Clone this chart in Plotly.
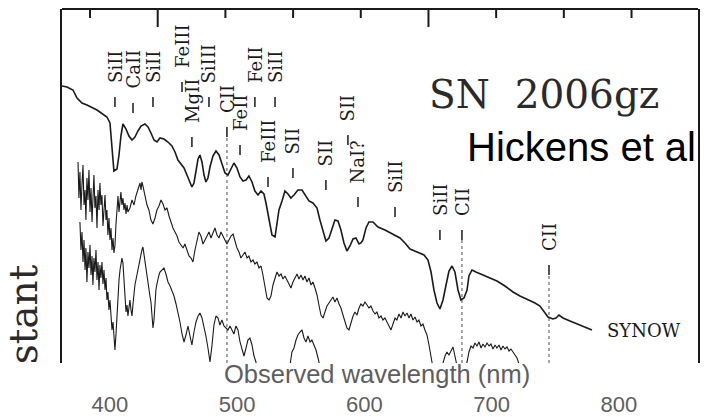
import plotly.graph_objects as go

# ---- spectra: (observed wavelength [nm], scaled flux + constant) ----
synow = [
    (362.3, 2.77), (366.2, 2.76), (370.9, 2.73), (374.1, 2.65), (378.0, 2.60), (381.9, 2.58),
    (389.8, 2.53), (394.5, 2.49), (397.6, 2.46), (400.0, 2.40), (400.8, 2.28), (401.6, 2.13),
    (402.4, 1.97), (403.1, 1.92), (405.5, 1.94), (407.1, 2.08), (408.6, 2.27), (410.2, 2.39),
    (412.6, 2.34), (414.9, 2.27), (417.3, 2.23), (419.6, 2.26), (422.0, 2.32), (424.4, 2.37),
    (427.5, 2.39), (429.9, 2.36), (432.2, 2.30), (434.6, 2.23), (436.9, 2.21), (439.3, 2.25),
    (442.4, 2.24), (445.6, 2.21), (448.7, 2.17), (451.1, 2.11), (453.4, 2.03), (455.8, 1.99),
    (458.2, 1.95), (460.5, 1.88), (462.9, 1.80), (464.4, 1.76), (466.0, 1.80), (467.6, 1.91),
    (469.2, 2.04), (470.7, 2.08), (472.3, 2.01), (473.9, 1.88), (475.4, 1.81), (477.0, 1.85),
    (478.6, 1.96), (480.9, 2.07), (483.3, 2.12), (485.7, 2.08), (488.0, 1.98), (490.4, 1.90),
    (492.7, 1.88), (495.1, 1.95), (497.4, 2.00), (499.8, 1.95), (502.2, 1.86), (504.5, 1.82),
    (506.9, 1.83), (509.2, 1.87), (511.6, 1.81), (513.9, 1.72), (516.3, 1.68), (518.7, 1.72),
    (521.0, 1.69), (522.6, 1.60), (524.2, 1.50), (525.7, 1.37), (527.3, 1.28), (529.7, 1.26),
    (531.2, 1.38), (532.8, 1.53), (535.2, 1.62), (537.5, 1.72), (539.9, 1.69), (542.2, 1.65),
    (544.6, 1.68), (547.7, 1.73), (550.9, 1.73), (553.2, 1.68), (556.4, 1.62), (559.5, 1.60),
    (562.7, 1.55), (565.0, 1.43), (567.4, 1.31), (569.7, 1.22), (572.1, 1.25), (574.5, 1.35),
    (576.8, 1.43), (579.2, 1.42), (581.5, 1.33), (583.9, 1.20), (586.2, 1.12), (588.6, 1.17),
    (591.0, 1.24), (593.3, 1.25), (595.7, 1.19), (597.2, 1.20), (598.8, 1.23), (601.2, 1.35),
    (603.5, 1.41), (606.7, 1.41), (610.6, 1.36), (616.1, 1.33), (622.4, 1.29), (627.9, 1.25),
    (631.8, 1.20), (635.8, 1.14), (641.3, 1.11), (646.8, 1.08), (649.9, 1.03), (652.3, 0.91),
    (654.6, 0.73), (657.0, 0.60), (659.3, 0.54), (661.7, 0.63), (664.1, 0.78), (666.4, 0.92),
    (668.8, 0.97), (671.1, 0.91), (673.5, 0.73), (675.8, 0.63), (678.2, 0.65), (680.6, 0.73),
    (682.1, 0.87), (684.5, 0.93), (687.6, 0.91), (693.1, 0.88), (698.6, 0.85), (704.1, 0.82),
    (710.4, 0.77), (716.7, 0.71), (722.2, 0.67), (727.7, 0.64), (734.0, 0.60), (737.9, 0.57),
    (741.0, 0.51), (744.2, 0.46), (748.1, 0.44), (750.5, 0.45), (752.8, 0.48), (756.0, 0.45),
    (761.5, 0.42), (769.4, 0.38), (778.8, 0.33),
]

spec_mid = [
    (374.9, 2.01), (375.6, 1.65), (376.4, 1.91), (377.2, 1.53), (378.0, 1.78), (378.8, 1.98),
    (379.6, 1.58), (380.4, 1.73), (381.1, 1.43), (381.9, 1.85), (382.7, 1.63), (383.5, 1.93),
    (384.3, 1.51), (385.1, 1.75), (385.9, 1.41), (386.6, 1.71), (387.4, 1.88), (388.2, 1.55),
    (389.0, 1.67), (389.8, 1.35), (390.6, 1.73), (391.4, 1.53), (392.1, 1.80), (392.9, 1.58),
    (393.7, 1.68), (394.5, 1.37), (395.3, 1.58), (396.1, 1.68), (396.9, 1.43), (397.6, 1.53),
    (398.4, 1.28), (399.2, 1.45), (400.0, 1.23), (400.8, 1.35), (401.6, 1.13), (402.4, 1.25),
    (403.1, 1.10), (403.9, 1.17), (404.7, 1.38), (405.5, 1.58), (406.3, 1.67), (407.1, 1.51),
    (407.9, 1.63), (408.6, 1.71), (409.4, 1.58), (410.2, 1.65), (411.0, 1.53), (411.8, 1.60),
    (412.6, 1.49), (413.4, 1.58), (414.1, 1.51), (415.7, 1.55), (417.3, 1.63), (418.9, 1.58),
    (420.4, 1.67), (422.0, 1.75), (423.6, 1.80), (424.4, 1.73), (425.1, 1.81), (425.9, 1.77),
    (427.5, 1.68), (429.1, 1.58), (430.6, 1.53), (432.2, 1.43), (433.8, 1.39), (435.4, 1.45),
    (436.9, 1.53), (438.5, 1.57), (440.1, 1.63), (441.7, 1.59), (443.2, 1.53), (444.8, 1.55),
    (446.4, 1.47), (447.9, 1.41), (449.5, 1.35), (451.1, 1.31), (452.7, 1.27), (454.2, 1.21),
    (455.8, 1.18), (457.4, 1.15), (458.9, 1.19), (460.5, 1.13), (462.1, 1.07), (463.7, 1.05),
    (465.2, 1.01), (466.8, 1.13), (468.4, 1.23), (469.9, 1.31), (471.5, 1.27), (473.1, 1.19),
    (474.7, 1.23), (476.2, 1.27), (477.8, 1.31), (479.4, 1.25), (480.9, 1.31), (482.5, 1.35),
    (484.1, 1.28), (485.7, 1.25), (487.2, 1.31), (488.8, 1.27), (490.4, 1.23), (491.9, 1.19),
    (493.5, 1.23), (495.1, 1.27), (496.7, 1.29), (498.2, 1.21), (499.8, 1.15), (501.4, 1.11),
    (502.9, 1.05), (504.5, 1.08), (506.1, 1.11), (507.7, 1.05), (509.2, 1.07), (510.8, 1.01),
    (512.4, 1.03), (513.9, 0.99), (515.5, 1.01), (517.1, 0.95), (518.7, 0.97), (520.2, 0.88),
    (521.8, 0.76), (523.4, 0.65), (525.0, 0.63), (526.5, 0.67), (528.1, 0.78), (529.7, 0.85),
    (531.2, 0.91), (532.8, 0.87), (534.4, 0.89), (536.0, 0.84), (537.5, 0.87), (539.1, 0.83),
    (540.7, 0.79), (542.2, 0.75), (543.8, 0.81), (545.4, 0.85), (547.0, 0.89), (548.5, 0.84),
    (550.1, 0.88), (551.7, 0.83), (553.2, 0.87), (554.8, 0.81), (556.4, 0.85), (558.0, 0.78),
    (559.5, 0.81), (561.1, 0.75), (562.7, 0.68), (564.2, 0.58), (565.8, 0.48), (567.4, 0.45),
    (569.0, 0.51), (570.5, 0.57), (572.1, 0.60), (573.7, 0.63), (575.2, 0.66), (576.8, 0.61),
    (578.4, 0.65), (580.0, 0.59), (581.5, 0.55), (583.1, 0.48), (584.7, 0.41), (586.2, 0.35),
    (587.8, 0.33), (589.4, 0.41), (591.0, 0.47), (592.5, 0.51), (594.1, 0.48), (595.7, 0.55),
    (597.2, 0.59), (598.8, 0.57), (600.4, 0.61), (602.0, 0.58), (603.5, 0.55), (605.1, 0.57),
    (606.7, 0.52), (608.3, 0.49), (609.8, 0.51), (611.4, 0.45), (613.0, 0.47), (614.5, 0.43),
    (616.1, 0.45), (617.7, 0.41), (619.3, 0.37), (620.8, 0.33), (622.4, 0.39), (624.0, 0.45),
    (625.5, 0.43), (627.1, 0.49), (628.7, 0.45), (630.3, 0.51), (631.8, 0.47), (633.4, 0.50),
    (635.0, 0.45), (636.5, 0.49), (638.1, 0.43), (639.7, 0.46), (641.3, 0.41), (642.8, 0.43),
    (644.4, 0.37), (646.0, 0.39), (647.5, 0.33), (649.1, 0.28), (650.7, 0.18), (652.3, 0.08),
    (653.8, -0.05), (656.2, -0.22), (659.3, -0.22), (661.7, 0.00), (663.3, 0.07), (664.8, 0.11),
    (666.4, 0.08), (668.0, 0.13), (669.6, 0.16), (671.1, 0.07), (672.7, -0.03), (675.0, -0.12),
    (678.2, -0.09), (680.6, 0.01), (682.1, 0.11), (683.7, 0.17), (685.3, 0.15), (686.8, 0.20),
    (688.4, 0.17), (690.0, 0.21), (691.6, 0.15), (693.1, 0.19), (694.7, 0.16), (696.3, 0.20),
    (697.9, 0.17), (699.4, 0.19), (701.0, 0.14), (702.6, 0.18), (704.1, 0.15), (705.7, 0.18),
    (707.3, 0.13), (708.8, 0.17), (710.4, 0.14), (712.0, 0.16), (713.6, 0.12), (715.1, 0.14),
    (716.7, 0.11), (718.3, 0.08), (719.9, 0.05), (721.4, -0.01), (723.8, -0.12),
]

spec_low = [
    (376.4, 1.41), (377.2, 1.13), (378.0, 1.31), (378.8, 1.01), (379.6, 1.23), (380.4, 0.93),
    (381.1, 1.15), (381.9, 0.81), (382.7, 1.11), (383.5, 0.95), (384.3, 1.18), (385.1, 0.88),
    (385.9, 1.07), (386.6, 0.78), (387.4, 1.05), (388.2, 0.91), (389.0, 1.13), (389.8, 0.83),
    (390.6, 1.01), (391.4, 0.73), (392.1, 0.98), (392.9, 0.85), (393.7, 1.01), (394.5, 0.79),
    (395.3, 0.93), (396.1, 0.73), (396.9, 0.85), (397.6, 0.63), (398.4, 0.71), (399.2, 0.53),
    (400.0, 0.63), (400.8, 0.45), (401.6, 0.33), (402.4, 0.41), (403.1, 0.23), (403.9, 0.13),
    (404.7, 0.28), (405.5, 0.48), (406.3, 0.68), (407.1, 0.83), (407.9, 0.93), (408.6, 1.01),
    (409.4, 1.05), (410.2, 1.00), (411.0, 0.83), (411.8, 0.63), (412.6, 0.51), (413.4, 0.58),
    (414.1, 0.47), (414.9, 0.55), (415.7, 0.63), (416.5, 0.53), (417.3, 0.47), (418.1, 0.59),
    (418.9, 0.71), (419.6, 0.78), (420.4, 0.83), (421.2, 0.88), (422.0, 0.95), (422.8, 1.01),
    (423.6, 1.05), (424.4, 1.11), (425.1, 1.13), (425.9, 1.16), (426.7, 1.08), (427.5, 1.01),
    (428.3, 0.93), (429.1, 0.85), (429.9, 0.80), (430.6, 0.73), (431.4, 0.67), (432.2, 0.61),
    (433.0, 0.45), (433.8, 0.35), (434.6, 0.43), (435.4, 0.63), (436.1, 0.73), (436.9, 0.79),
    (437.7, 0.85), (438.5, 0.88), (439.3, 0.91), (440.9, 0.93), (442.4, 0.95), (444.0, 0.89),
    (445.6, 0.81), (447.2, 0.77), (448.7, 0.73), (450.3, 0.67), (451.9, 0.59), (453.4, 0.51),
    (455.0, 0.41), (456.6, 0.29), (458.2, 0.21), (459.7, 0.28), (461.3, 0.37), (462.9, 0.27),
    (464.4, 0.18), (466.0, 0.31), (467.6, 0.41), (469.2, 0.47), (470.7, 0.50), (472.3, 0.45),
    (473.9, 0.37), (475.4, 0.27), (477.0, 0.15), (478.6, 0.01), (480.2, 0.18), (481.7, 0.38),
    (483.3, 0.47), (484.9, 0.45), (486.4, 0.38), (488.0, 0.43), (489.6, 0.37), (491.2, 0.35),
    (492.7, 0.33), (494.3, 0.37), (495.9, 0.33), (497.4, 0.29), (499.0, 0.37), (500.6, 0.33),
    (502.2, 0.21), (503.7, 0.13), (505.3, 0.07), (506.9, 0.15), (508.4, 0.23), (510.0, 0.25),
    (511.6, 0.18), (513.2, 0.07), (514.7, 0.01), (516.3, -0.09), (519.5, -0.22), (537.5, -0.22),
    (541.5, -0.02), (543.0, 0.11), (544.6, 0.15), (546.2, 0.23), (547.7, 0.28), (549.3, 0.31),
    (550.9, 0.33), (552.5, 0.25), (554.0, 0.21), (555.6, 0.27), (557.2, 0.21), (558.7, 0.23),
    (560.3, 0.18), (561.9, 0.13), (563.5, 0.05), (565.0, -0.05), (568.2, -0.22),
]

# ---- line identifications: ion, wavelength [nm], flux level at foot of the marker ----
line_ions = ["SiII", "CaII", "SiII", "FeIII", "MgII", "SiIII", "CII", "FeII", "FeII", "FeIII",
             "SiII", "SII", "SII", "SII", "NaI?", "SiII", "SiII", "CII", "CII"]
line_wl = [403.9, 418.1, 433.8, 456.6, 464.4, 477.8, 491.9, 502.2, 513.9, 524.2,
           529.7, 543.8, 569.7, 587.0, 594.9, 624.0, 659.3, 676.6, 745.0]
line_foot = [2.56, 2.50, 2.56, 2.71, 2.16, 2.56, 2.26, 2.08, 2.56, 1.76,
             2.56, 1.85, 1.73, 2.18, 1.56, 1.46, 1.23, 1.23, 0.88]
# carbon features get a dotted guide down through the spectra
guide_ions = ["CII"]

obs_ticks = [400, 500, 600, 700, 800]
# original frame axis along the top (rest wavelength, Angstrom): ticks only
rest_range = [3293, 7991]
rest_major = [4000, 6000]
rest_minor = [3500, 4500, 5000, 5500, 6500, 7000, 7500]
x_range = [362.3, 862.1]
y_range = [0.0, 3.54]

SERIF = "DejaVu Serif"
SANS = "Liberation Sans"
INK = "#1a1a1a"
GREY = "#5e5e5e"
PLOT_H = 417 - 9 - 54
FLUX_PER_PX = (y_range[1] - y_range[0]) / PLOT_H

fig = go.Figure()

for data, width in ((synow, 1.6), (spec_mid, 1.1), (spec_low, 1.1)):
    xs, ys = zip(*data)
    fig.add_trace(go.Scatter(x=list(xs), y=list(ys), mode="lines",
                             line=dict(color=INK, width=width),
                             hoverinfo="skip", showlegend=False))


def rest_to_obs(t):
    """Place a rest-frame frame tick on the observed-wavelength axis."""
    f = (t - rest_range[0]) / (rest_range[1] - rest_range[0])
    return x_range[0] + f * (x_range[1] - x_range[0])


# rest-wavelength ticks hanging from the top frame edge
for ticks, length in ((rest_major, 18), (rest_minor, 9)):
    tx, ty = [], []
    for t in ticks:
        tx += [rest_to_obs(t), rest_to_obs(t), None]
        ty += [y_range[1], y_range[1] - length * FLUX_PER_PX, None]
    fig.add_trace(go.Scatter(x=tx, y=ty, mode="lines", line=dict(color=INK, width=2),
                             hoverinfo="skip", showlegend=False))

shapes = [dict(type="line", xref="paper", yref="paper", x0=0, x1=1, y0=1, y1=1,
               line=dict(color=INK, width=2))]

TICK_LEN = 0.10
TEXT_GAP = 0.13
annotations = []
for ion, wl, foot in zip(line_ions, line_wl, line_foot):
    shapes.append(dict(type="line", xref="x", yref="y", x0=wl, x1=wl,
                       y0=foot, y1=foot + TICK_LEN, line=dict(color=INK, width=1.5)))
    if ion in guide_ions:
        shapes.append(dict(type="line", xref="x", yref="y", x0=wl, x1=wl,
                           y0=y_range[0], y1=foot, layer="below",
                           line=dict(color="#808080", width=1.4, dash="dot")))
    annotations.append(dict(x=wl, y=foot + TICK_LEN + TEXT_GAP, xref="x", yref="y",
                            text=ion, textangle=-90, showarrow=False,
                            xanchor="center", yanchor="bottom", borderpad=0,
                            font=dict(family=SERIF, size=18, color=INK)))

annotations += [
    dict(x=0.574, y=0.7585, xref="paper", yref="paper", text="SN  2006gz",
         showarrow=False, xanchor="left", yanchor="middle",
         font=dict(family=SERIF, size=39, color="#2a2a2a")),
    dict(x=0.6336, y=0.611, xref="paper", yref="paper", text="Hickens et al",
         showarrow=False, xanchor="left", yanchor="middle",
         font=dict(family=SANS, size=40, color="#000000")),
    dict(x=0.8538, y=0.0918, xref="paper", yref="paper", text="SYNOW",
         showarrow=False, xanchor="left", yanchor="middle",
         font=dict(family=SERIF, size=18, color=INK)),
    dict(x=-0.061, y=-0.006, xref="paper", yref="paper", text="stant",
         textangle=-90, showarrow=False, xanchor="center", yanchor="bottom",
         borderpad=0, font=dict(family=SERIF, size=39, color="#2a2a2a")),
    dict(x=0.4945, y=-0.0297, xref="paper", yref="paper",
         text="Observed wavelength (nm)", showarrow=False,
         xanchor="center", yanchor="middle",
         font=dict(family=SANS, size=25.5, color=GREY)),
]

fig.update_layout(
    width=708, height=417,
    margin=dict(l=62, r=10, t=9, b=54, autoexpand=False),
    paper_bgcolor="white", plot_bgcolor="white",
    showlegend=False,
    xaxis=dict(range=x_range, showgrid=False, zeroline=False, showline=False,
               ticks="", tickvals=obs_ticks, ticktext=[str(v) for v in obs_ticks],
               tickfont=dict(family=SANS, size=22, color=GREY),
               ticklabelstandoff=26, automargin=False, fixedrange=True),
    yaxis=dict(range=y_range, showgrid=False, zeroline=False, showticklabels=False,
               ticks="", showline=True, mirror=True, linewidth=2, linecolor=INK,
               automargin=False, fixedrange=True),
    shapes=shapes,
    annotations=annotations,
)

fig.write_html("out.html")
